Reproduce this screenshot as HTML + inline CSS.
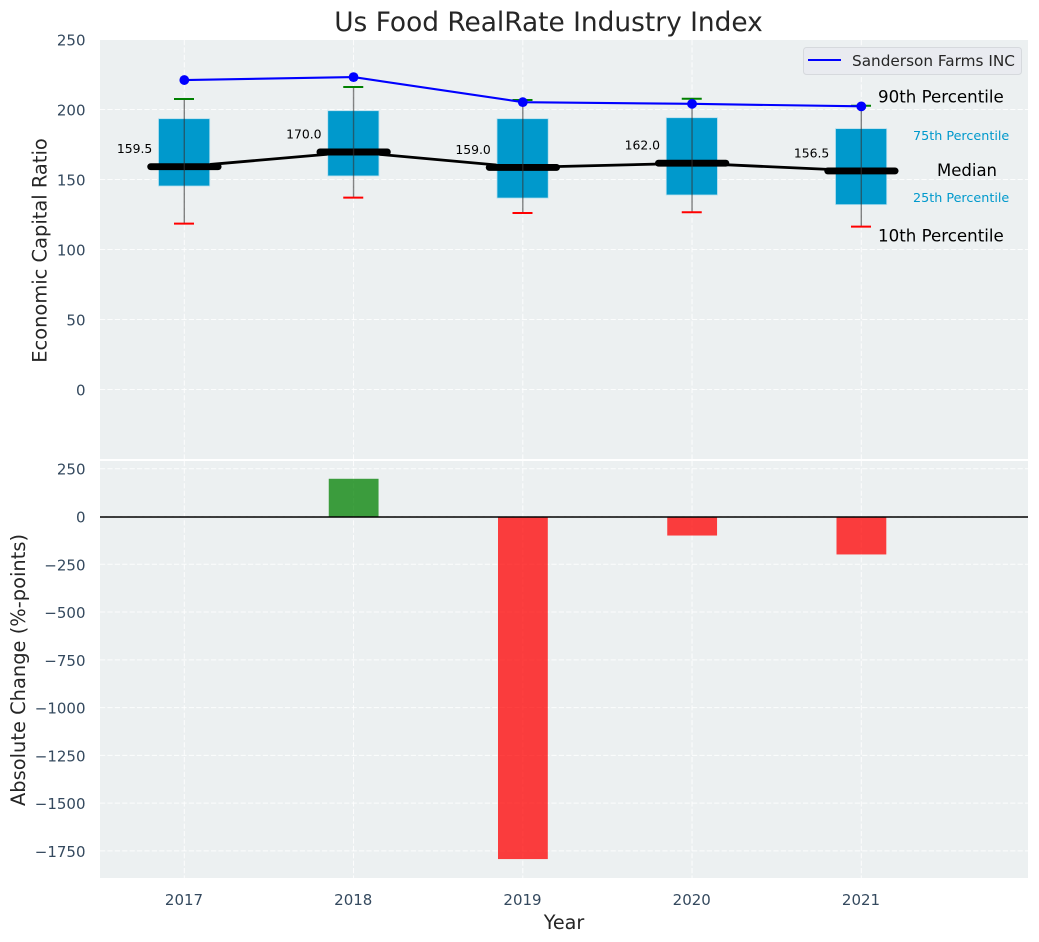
<!DOCTYPE html>
<html>
<head>
<meta charset="utf-8">
<title>Us Food RealRate Industry Index</title>
<style>
html,body{margin:0;padding:0;background:#fff;}
svg{display:block;font-family:"DejaVu Sans","Liberation Sans",sans-serif;}
</style>
</head>
<body>
<svg id="chart" xmlns="http://www.w3.org/2000/svg" width="1039" height="942" viewBox="0 0 1039 942"></svg>
<script>
const years = [2017, 2018, 2019, 2020, 2021];
const p90 = [207.9, 216.4, 207.1, 208, 203];
const p75 = [193.8, 199.5, 193.8, 194.5, 186.7];
const medians = [159.5, 170, 159, 162, 156.5];
const p25 = [145.7, 152.9, 137.1, 139.3, 132.4];
const p10 = [118.8, 137.4, 126.4, 127, 116.7];
const company = [221.4, 223.5, 205.6, 204.4, 202.6];
const changes = [0, 200, -1790, -97, -196];
const topTicks = [0, 50, 100, 150, 200, 250];
const bottomTicks = [250, 0, -250, -500, -750, -1000, -1250, -1500, -1750];
const medianLabels = ['159.5', '170.0', '159.0', '162.0', '156.5'];

const svg = document.getElementById('chart');
const NS = 'http://www.w3.org/2000/svg';
const L = 100, R = 1028, T1 = 40, B1 = 459, T2 = 461, B2 = 878;
const x = v => 184.3 + (v - 2017) * 169.25;
const yTop = v => 390 - v * 1.4;
const yBottom = v => 517 - v * 0.1911;

function make(tag, attrs, text) {
  const el = document.createElementNS(NS, tag);
  for (const k in attrs) el.setAttribute(k, attrs[k]);
  if (text !== undefined) el.textContent = text;
  svg.appendChild(el);
  return el;
}
let el;

el = make('rect', {x: L, y: T1, width: R - L, height: B1 - T1, fill: '#ecf0f1'});


el = make('rect', {x: L, y: T2, width: R - L, height: B2 - T2, fill: '#ecf0f1'});



const gridStyle = {stroke: '#ffffff', 'stroke-width': 1, 'stroke-opacity': 0.85, 'stroke-dasharray': '5.2 2.2'};
years.forEach(v => {
  el = make('line', Object.assign({x1: x(v), x2: x(v), y1: T1, y2: B1}, gridStyle));
  
  
  el = make('line', Object.assign({x1: x(v), x2: x(v), y1: T2, y2: B2}, gridStyle));
  
  
  el = make('text', {x: x(v) - 0.3, y: 905, 'text-anchor': 'middle', 'font-size': 15, fill: '#34495e'}, String(v));
  
  
});
topTicks.forEach(v => {
  el = make('line', Object.assign({x1: L, x2: R, y1: yTop(v) - 0.5, y2: yTop(v) - 0.5}, gridStyle));
  
  
  el = make('text', {x: 85.5, y: yTop(v) + 5.5, 'text-anchor': 'end', 'font-size': 15, fill: '#34495e'}, String(v));
  
  
});
bottomTicks.forEach(v => {
  el = make('line', Object.assign({x1: L, x2: R, y1: yBottom(v) - 0.5, y2: yBottom(v) - 0.5}, gridStyle));
  
  
  el = make('text', {x: 85.5, y: yBottom(v) + 5.5, 'text-anchor': 'end', 'font-size': 15, fill: '#34495e'}, String(v).replace('-', '\u2212'));
  
  
});

/* median trend line */
el = make('polyline', {points: years.map((v, i) => x(v) + ',' + yTop(medians[i])).join(' '), fill: 'none', stroke: '#000', 'stroke-width': 2.8});



years.forEach((v, i) => {
  const cx = x(v);
  el = make('rect', {x: cx - 25.8, y: yTop(p75[i]), width: 51.2, height: yTop(p25[i]) - yTop(p75[i]), fill: '#0099cc', stroke: '#b5dfee', 'stroke-width': 0.8});
  
  
  el = make('line', {x1: cx - 33.6, x2: cx + 33.8, y1: yTop(medians[i]), y2: yTop(medians[i]), stroke: '#000', 'stroke-width': 6.9, 'stroke-linecap': 'round'});
  
  
  el = make('line', {x1: cx, x2: cx, y1: yTop(p90[i]), y2: yTop(p10[i]), stroke: '#333333', 'stroke-opacity': 0.6, 'stroke-width': 1.4});
  
  
  el = make('line', {x1: cx - 10.3, x2: cx + 9.7, y1: yTop(p90[i]), y2: yTop(p90[i]), stroke: '#008000', 'stroke-width': 2});
  
  
  el = make('line', {x1: cx - 10.3, x2: cx + 9.7, y1: yTop(p10[i]), y2: yTop(p10[i]), stroke: '#ff0000', 'stroke-width': 2});
  
  
  el = make('text', {x: cx - 32, y: yTop(medians[i]) - 13.5, 'text-anchor': 'end', 'font-size': 12.4, fill: '#000'}, medianLabels[i]);
  
  
});

/* company line */
el = make('polyline', {points: years.map((v, i) => x(v) + ',' + yTop(company[i])).join(' '), fill: 'none', stroke: '#0000ff', 'stroke-width': 2.1});


years.forEach((v, i) => {
  el = make('circle', {cx: x(v), cy: yTop(company[i]), r: 4.9, fill: '#0000ff'});
  
  
});

/* percentile annotations anchored on the last box */
const last = years.length - 1;
el = make('text', {x: 878, y: yTop(p90[last]) - 3.5, 'font-size': 16.67, fill: '#000'}, '90th Percentile');


el = make('text', {x: 913, y: yTop(p75[last]) + 11.5, 'font-size': 12.75, fill: '#0099cc'}, '75th Percentile');


el = make('text', {x: 937, y: yTop(medians[last]) + 5, 'font-size': 16.5, fill: '#000'}, 'Median');


el = make('text', {x: 913, y: yTop(p25[last]) - 2.5, 'font-size': 12.75, fill: '#0099cc'}, '25th Percentile');


el = make('text', {x: 878, y: yTop(p10[last]) + 15, 'font-size': 16.67, fill: '#000'}, '10th Percentile');



/* change bars */
years.forEach((v, i) => {
  const val = changes[i];
  if (val === 0) return;
  const y0 = Math.min(yBottom(val), yBottom(0));
  el = make('rect', {x: x(v) - 24.8, y: y0, width: 49.8, height: Math.abs(yBottom(val) - yBottom(0)), fill: val > 0 ? '#008000' : '#ff0000', 'fill-opacity': 0.75});
  
  
});
el = make('line', {x1: L, x2: R, y1: yBottom(0), y2: yBottom(0), stroke: '#000', 'stroke-width': 1.4});



/* legend */
el = make('rect', {x: 803.5, y: 47.5, width: 218, height: 27, rx: 3, fill: '#e9ebf0', stroke: '#d6d9dd', 'stroke-width': 1});


el = make('line', {x1: 808, x2: 841, y1: 60, y2: 60, stroke: '#0000ff', 'stroke-width': 2});


el = make('text', {x: 852, y: 66, 'font-size': 15.28, fill: '#262626'}, 'Sanderson Farms INC');



/* titles */
el = make('text', {x: 548.5, y: 31, 'text-anchor': 'middle', 'font-size': 26.4, fill: '#262626'}, 'Us Food RealRate Industry Index');


el = make('text', {x: 564, y: 929, 'text-anchor': 'middle', 'font-size': 19.2, fill: '#262626'}, 'Year');


el = make('text', {x: 0, y: 0, transform: 'translate(46.5,250.5) rotate(-90)', 'text-anchor': 'middle', 'font-size': 19.44, fill: '#262626'}, 'Economic Capital Ratio');


el = make('text', {x: 0, y: 0, transform: 'translate(25,670) rotate(-90)', 'text-anchor': 'middle', 'font-size': 19.44, fill: '#262626'}, 'Absolute Change (%-points)');


</script>
</body>
</html>
